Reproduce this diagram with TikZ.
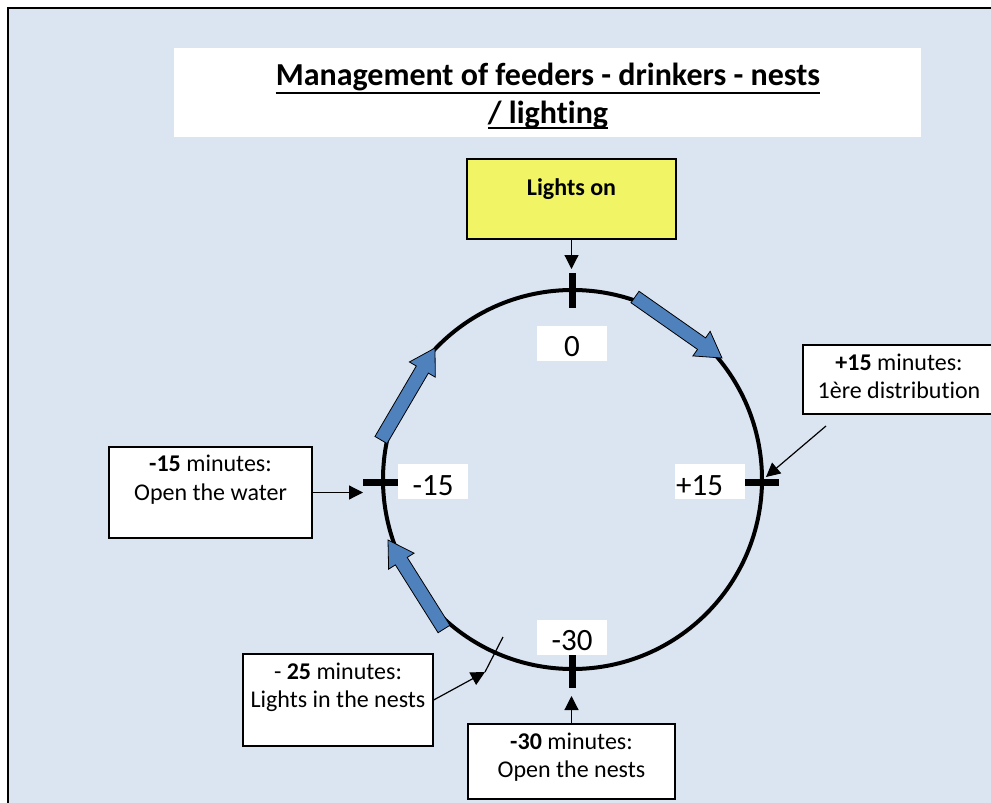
\documentclass[tikz,border=0pt]{standalone}
\usepackage{fontspec}
\setmainfont{Carlito}[Ligatures=NoCommon]
\usetikzlibrary{arrows.meta,calc}
\definecolor{bgblue}{HTML}{DBE5F1}
\definecolor{lightsyellow}{HTML}{F0F465}
\definecolor{arrowblue}{HTML}{4F81BD}
\newcommand\blockarr[2]{%
  \filldraw[fill=arrowblue,draw=black,line width=0.8pt,line join=miter]
    ($(#1)!7pt!90:(#2)$) -- ($(#2)!25pt!(#1)!7pt!90:(#2)$) -- ($(#2)!25pt!(#1)!15pt!90:(#2)$)
    -- (#2) -- ($(#2)!25pt!(#1)!15pt!-90:(#2)$) -- ($(#2)!25pt!(#1)!7pt!-90:(#2)$)
    -- ($(#1)!7pt!-90:(#2)$) -- cycle;}
\begin{document}
\begin{tikzpicture}[x=1pt,y=-1pt,
  callout/.style={draw=black,line width=1.3pt,fill=white,inner sep=0},
  callouttext/.style={font=\fontsize{24}{28.5}\selectfont,align=center,anchor=base,inner sep=0},
  numbox/.style={fill=white,minimum width=70pt,minimum height=35pt,inner sep=0},
  numtext/.style={font=\fontsize{31}{36}\selectfont,anchor=base,inner sep=0},
  tickmark/.style={line width=7pt},
  pointer/.style={line width=1.2pt,-{Triangle[length=14pt,width=14pt]}},
  titletext/.style={font=\fontsize{32}{38}\selectfont\bfseries,anchor=base,inner sep=0}]
\useasboundingbox (0,0) rectangle (991,803);
\clip (0,0) rectangle (991,803);
\fill[bgblue] (8,8) rectangle (1000,812);
\draw[line width=2pt] (8,815) -- (8,8) -- (1000,8);

% title
\node[fill=white,minimum width=747pt,minimum height=89pt,inner sep=0] (titlebox) at (547.5,92.5) {};
\node[titletext] (t1) at (548,85) {Management of feeders - drinkers - nests};
\node[titletext] (t2) at (548,123) {/ lighting};
\draw[line width=2.4pt] ([yshift=-8pt]t1.base west) -- ([yshift=-8pt]t1.base east);
\draw[line width=2.4pt] ([yshift=-5pt]t2.base west) -- ([yshift=-5pt]t2.base east);

% lights on
\node[draw=black,line width=1.5pt,fill=lightsyellow,minimum width=209pt,minimum height=80pt,inner sep=0] (lights) at (571.5,199) {};
\node[font=\fontsize{24}{28}\selectfont\bfseries,anchor=base,inner sep=0] (lightstext) at (571.5,195) {Lights on};

% circle
\coordinate (c) at (572.5,479.5);
\draw[line width=4pt] (c) circle[radius=189.5pt];

% blue arrows
\coordinate (a1t) at (635,297); \coordinate (a1p) at (722,358);
\coordinate (a2t) at (381,440); \coordinate (a2p) at (435,348);
\coordinate (a3t) at (444,629); \coordinate (a3p) at (388,540);
\blockarr{a1t}{a1p}
\blockarr{a2t}{a2p}
\blockarr{a3t}{a3p}

% ticks
\draw[tickmark] (572,273) -- (572,308);
\draw[tickmark] (572,655) -- (572,688);
\draw[tickmark] (363,482) -- (398,482);
\draw[tickmark] (745,482) -- (779,482);

% number labels
\node[numbox] (n0box) at (572,343.5) {};
\node[numtext] (n0) at (572,356) {0};
\node[numbox] (nm15box) at (433,481.5) {};
\node[numtext] (nm15) at (433,495) {-15};
\node[numbox] (np15box) at (710,481) {};
\node[numtext,anchor=base west] (np15) at (676,495) {+15};
\node[numbox] (nm30box) at (572,637.5) {};
\node[numtext] (nm30) at (572,650) {-30};

% callouts (text anchored at the baseline of its last line)
\node[callout,minimum width=196pt,minimum height=69pt] (p15) at (901,379.5) {};
\node[callouttext] (p15t) at (899,398.5) {\textbf{+15} minutes:\\1ère distribution};
\node[callout,minimum width=203pt,minimum height=91pt] (m15) at (210.5,492.5) {};
\node[callouttext] (m15t) at (210.5,500) {\textbf{-15} minutes:\\Open the water};
\node[callout,minimum width=190pt,minimum height=92pt] (m25) at (338,700) {};
\node[callouttext] (m25t) at (338,707.5) {- \textbf{25} minutes:\\Lights in the nests};
\node[callout,minimum width=207pt,minimum height=75pt] (m30) at (571.5,761.5) {};
\node[callouttext] (m30t) at (571.5,777.5) {\textbf{-30} minutes:\\Open the nests};

% connectors
\coordinate (tip0) at (571.5,269);
\coordinate (tipm15) at (363,492.5);
\coordinate (p15start) at (826,426);
\coordinate (tipp15) at (766,477);
\coordinate (tipm25) at (485,672);
\coordinate (m25end) at (503,637);
\coordinate (tipm30) at (571.5,696);
\draw[pointer] (lights.south) -- (tip0);
\draw[pointer] (m15.east) -- (tipm15);
\draw[pointer] (p15start) -- (tipp15);
\draw[pointer] (m25.east) -- (tipm25);
\draw[line width=1.2pt] (tipm25) -- (m25end);
\draw[pointer] (m30.north) -- (tipm30);
\end{tikzpicture}
\end{document}
